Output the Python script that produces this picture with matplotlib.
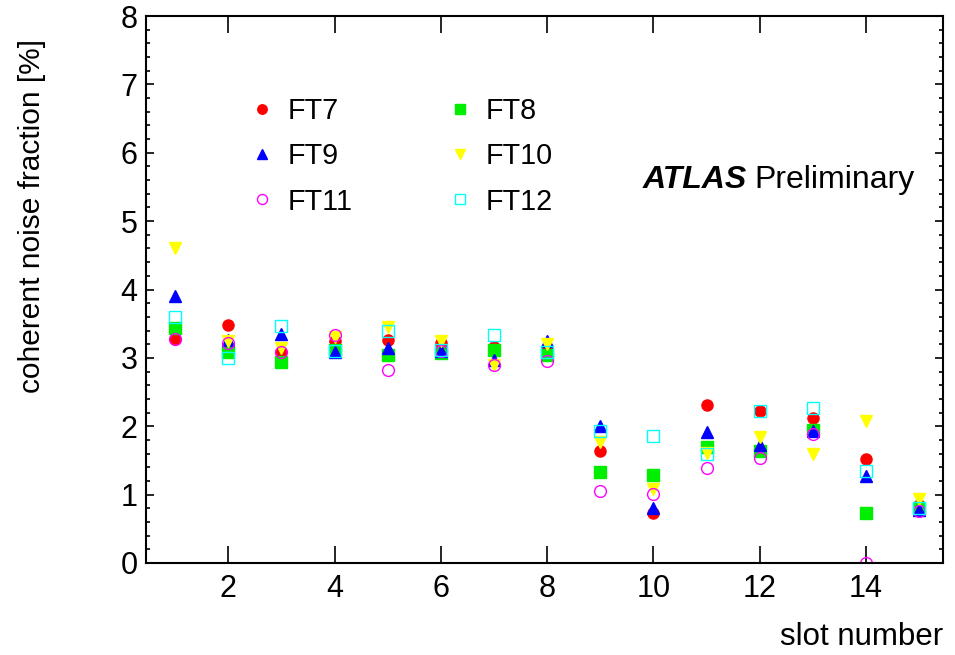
import numpy as np
import matplotlib
matplotlib.use('Agg')
import matplotlib.pyplot as plt
from matplotlib.ticker import MultipleLocator

plt.rcParams['font.family'] = ['Liberation Sans', 'DejaVu Sans']

# data
slots = np.arange(1, 16)
ft7 = [3.28, 3.48, 3.09, 3.25, 3.26, 3.22, 3.16, 3.11, 1.64, 0.73, 2.31, 2.22, 2.12, 1.52, 0.85]
ft8 = [3.43, 3.08, 2.94, 3.11, 3.04, 3.07, 3.11, 3.04, 1.33, 1.29, 1.70, 1.64, 1.94, 0.73, 0.80]
ft9 = [3.90, 3.26, 3.35, 3.08, 3.15, 3.10, 2.97, 3.24, 2.00, 0.80, 1.91, 1.73, 1.93, 1.27, 0.77]
ft10 = [4.60, 3.25, 3.14, 3.31, 3.45, 3.25, 2.90, 3.20, 1.77, 1.08, 1.61, 1.84, 1.59, 2.08, 0.94]
ft11 = [3.28, 3.22, 3.08, 3.33, 2.82, 3.10, 2.89, 2.95, 1.06, 1.01, 1.39, 1.53, 1.89, 0.00, 0.76]
ft12 = [3.60, 3.00, 3.46, 3.10, 3.39, 3.11, 3.34, 3.09, 1.93, 1.86, 1.60, 2.23, 2.26, 1.35, 0.80]

W, H = 955, 655
fig = plt.figure(figsize=(W / 100, H / 100), dpi=100)
ax = fig.add_axes([146 / W, 1 - 563 / H, (943 - 146) / W, (563 - 16) / H])

h7, = ax.plot(slots, ft7, 'o', color='#ff0000', ms=8, mec='#ff0000', ls='none', label='FT7')
h8, = ax.plot(slots, ft8, 's', color='#00ee00', ms=8, mec='#00ee00', ls='none', label='FT8')
h9, = ax.plot(slots, ft9, '^', color='#0000ff', ms=9, mec='#0000ff', ls='none', label='FT9')
h10, = ax.plot(slots, ft10, 'v', color='#ffff00', ms=9, mec='#ffff00', ls='none', label='FT10')
h11, = ax.plot(slots, ft11, 'o', mfc='none', mec='#ff00ff', mew=1.0, ms=8.5, ls='none', label='FT11')
h12, = ax.plot(slots, ft12, 's', mfc='none', mec='#00ffff', mew=1.0, ms=8.5, ls='none', label='FT12')

ax.set_xlim(0.45, 15.45)
ax.set_ylim(0, 8)
ax.xaxis.set_major_locator(MultipleLocator(2))
ax.yaxis.set_major_locator(MultipleLocator(1))
ax.yaxis.set_minor_locator(MultipleLocator(0.2))
ax.tick_params(axis='both', which='both', direction='in', top=True, right=True,
               labelsize=22, width=1.2)
ax.tick_params(axis='x', which='major', length=12, pad=8)
ax.tick_params(axis='y', which='major', length=6, pad=6)
ax.tick_params(axis='y', which='minor', length=3)
for s in ax.spines.values():
    s.set_linewidth(1.5)

# axis titles sit at the far end of each axis, ROOT style
ax.set_xlabel('slot number', loc='right', fontsize=22.5, labelpad=13)
ax.set_ylabel('coherent noise fraction [%]', loc='top', fontsize=21.5)
ax.yaxis.set_label_coords(-0.1255, 0.958)

t1 = ax.text(0.6236, 0.700, 'ATLAS', transform=ax.transAxes, fontsize=23,
             fontweight='bold', fontstyle='italic', va='center', ha='left')
ax.annotate('Preliminary', xy=(1, 0), xycoords=t1, xytext=(5, 0),
            textcoords='offset points', fontsize=23, va='bottom', ha='left')

# legend is filled row by row in the reference
ax.legend([h7, h9, h11, h8, h10, h12], ['FT7', 'FT9', 'FT11', 'FT8', 'FT10', 'FT12'],
          ncol=2, frameon=False, fontsize=20.7, loc='upper left',
          bbox_to_anchor=(249 / W, 1 - 97 / H), bbox_transform=fig.transFigure,
          borderpad=0, borderaxespad=0, handlelength=0.9, handletextpad=0.45,
          columnspacing=3.27, labelspacing=0.60, markerscale=0.85)

fig.savefig('out.png', dpi=100)
